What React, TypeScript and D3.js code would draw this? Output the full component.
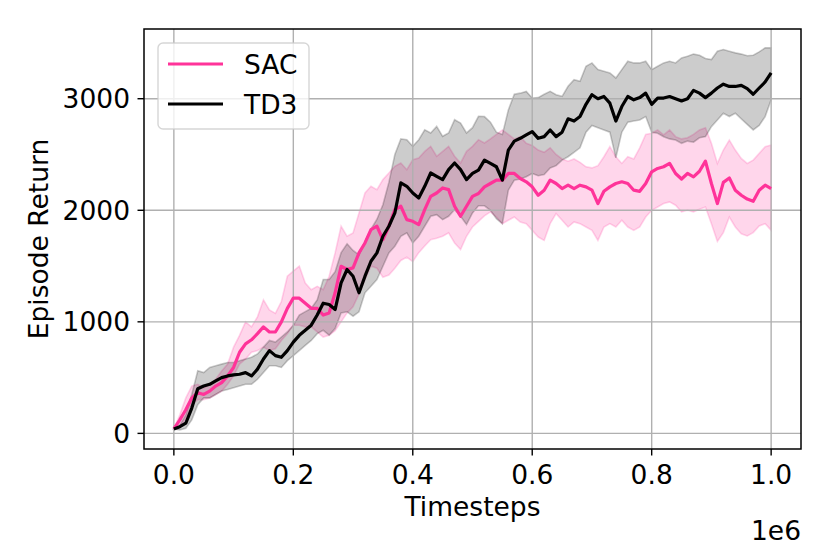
import React from 'react';
import * as d3 from 'd3';

// sampled every 0.01e6 timesteps, 0 .. 1e6
const timesteps = d3.range(0, 101).map(i => i * 10000);

const sacMean = [
  40, 121, 212, 318, 364, 349, 379, 424, 455, 515,
  591, 727, 803, 839, 894, 955, 909, 909, 1000, 1121,
  1212, 1212, 1167, 1121, 1121, 1061, 1080, 1260, 1498, 1469,
  1484, 1618, 1707, 1827, 1857, 1737, 1857, 2006, 2036, 1916,
  1901, 1872, 2006, 2125, 2155, 2200, 2185, 2036, 1946, 2036,
  2125, 2150, 2210, 2240, 2270, 2270, 2330, 2330, 2285, 2255,
  2210, 2135, 2180, 2270, 2240, 2195, 2225, 2195, 2225, 2210,
  2180, 2060, 2170, 2210, 2240, 2255, 2240, 2180, 2170, 2240,
  2345, 2375, 2390, 2420, 2330, 2280, 2330, 2300, 2350, 2440,
  2240, 2060, 2250, 2290, 2180, 2135, 2100, 2080, 2180, 2225,
  2195,
];
const sacUpper = [
  40, 167, 318, 424, 440, 409, 440, 485, 560, 621,
  773, 879, 1000, 955, 1045, 1197, 1106, 1076, 1182, 1409,
  1455, 1500, 1348, 1288, 1318, 1288, 1409, 1618, 1857, 1767,
  1797, 1976, 2155, 2215, 2185, 2275, 2334, 2394, 2424, 2364,
  2454, 2469, 2528, 2573, 2484, 2528, 2573, 2484, 2424, 2528,
  2573, 2633, 2603, 2640, 2680, 2720, 2680, 2640, 2660, 2600,
  2580, 2540, 2520, 2560, 2500, 2460, 2440, 2460, 2430, 2390,
  2380, 2400, 2480, 2570, 2480, 2420, 2480, 2460, 2560, 2680,
  2690, 2720, 2675, 2720, 2660, 2640, 2650, 2680, 2720, 2740,
  2600, 2420, 2540, 2630, 2540, 2465, 2420, 2450, 2510, 2570,
  2585,
];
const sacLower = [
  40, 61, 136, 258, 303, 303, 318, 349, 379, 440,
  515, 621, 667, 727, 742, 773, 742, 758, 833, 894,
  970, 970, 955, 955, 909, 864, 879, 920, 1000, 1080,
  1135, 1250, 1380, 1500, 1480, 1400, 1420, 1480, 1550, 1580,
  1540, 1620, 1680, 1737, 1750, 1767, 1797, 1707, 1648, 1767,
  1850, 1900, 1950, 1985, 1940, 1880, 1910, 1940, 1895, 1880,
  1820, 1760, 1730, 1880, 1970, 1910, 1850, 1895, 1880, 1850,
  1820, 1730, 1850, 1880, 1850, 1910, 1850, 1820, 1850, 1940,
  2000, 2030, 2060, 2075, 2045, 1985, 2000, 1985, 2010, 2030,
  1880, 1720, 1800, 1940, 1850, 1790, 1770, 1800, 1860, 1880,
  1820,
];

const td3Mean = [
  40, 60, 91, 227, 400, 424, 440, 470, 500, 515,
  524, 530, 545, 515, 576, 667, 742, 697, 682, 742,
  818, 879, 924, 970, 1061, 1167, 1155, 1110, 1350, 1469,
  1409, 1260, 1409, 1543, 1618, 1767, 1857, 1976, 2245, 2215,
  2155, 2110, 2215, 2334, 2304, 2275, 2364, 2424, 2364, 2275,
  2330, 2360, 2450, 2420, 2390, 2270, 2540, 2620, 2645, 2675,
  2705, 2645, 2660, 2720, 2660, 2700, 2820, 2800, 2840, 2950,
  3036, 3000, 3020, 2960, 2800, 2930, 3020, 2990, 3010, 3050,
  2950, 3006, 3006, 3020, 3000, 2980, 3000, 3075, 3050, 3010,
  3050, 3096, 3130, 3110, 3110, 3120, 3090, 3040, 3096, 3150,
  3231,
];
const td3Upper = [
  40, 76, 167, 349, 561, 545, 591, 606, 621, 636,
  636, 652, 667, 682, 712, 773, 833, 818, 864, 909,
  970, 1061, 1091, 1121, 1197, 1379, 1379, 1450, 1620, 1700,
  1640, 1600, 1720, 1830, 1920, 2050, 2250, 2500, 2640, 2633,
  2573, 2633, 2722, 2693, 2752, 2663, 2693, 2812, 2782, 2693,
  2740, 2842, 2840, 2790, 2700, 2680, 2900, 3040, 3050, 3066,
  3006, 3010, 3040, 3066, 3036, 3021, 3111, 3171, 3156, 3291,
  3321, 3261, 3246, 3231, 3186, 3261, 3336, 3321, 3321, 3336,
  3261, 3291, 3321, 3336, 3321, 3366, 3380, 3400, 3390, 3360,
  3351, 3426, 3441, 3426, 3411, 3400, 3385, 3390, 3420, 3456,
  3456,
];
const td3Lower = [
  40, 30, 45, 121, 258, 318, 318, 349, 379, 394,
  409, 424, 440, 440, 485, 545, 606, 606, 591, 652,
  697, 742, 788, 833, 894, 924, 880, 940, 1080, 1090,
  1050, 1090, 1260, 1319, 1379, 1498, 1618, 1678, 1767, 1797,
  1707, 1767, 1857, 1946, 1961, 1916, 1946, 2006, 1946, 1872,
  1976, 2040, 2040, 2000, 1925, 1880, 2180, 2270, 2280, 2300,
  2330, 2310, 2320, 2380, 2400, 2450, 2480, 2520, 2560, 2700,
  2760, 2740, 2720, 2700, 2470, 2700, 2790, 2800, 2810, 2840,
  2700, 2690, 2660, 2640, 2630, 2600, 2620, 2610, 2650, 2660,
  2750, 2810, 2870, 2840, 2870, 2820, 2770, 2720, 2760, 2840,
  2990,
];

const xTicks = [0, 200000, 400000, 600000, 800000, 1000000];
const xTickLabels = ['0.0', '0.2', '0.4', '0.6', '0.8', '1.0'];
const yTicks = [0, 1000, 2000, 3000];

const series = [
  { name: 'SAC', color: '#ff3399', mean: sacMean, lo: sacLower, hi: sacUpper },
  { name: 'TD3', color: '#000000', mean: td3Mean, lo: td3Lower, hi: td3Upper },
];

const W = 830;
const H = 554;
const plot = { left: 144, right: 801, top: 29, bottom: 449 };
const font = '"DejaVu Sans", sans-serif';
const fs = 26.5;

export default function App() {
  const x = d3.scaleLinear().domain([-50000, 1050000]).range([plot.left, plot.right]);
  const y = d3.scaleLinear().domain([-140, 3625]).range([plot.bottom, plot.top]);

  const band = (lo: number[], hi: number[]) =>
    d3.area<number>()
      .x((_, i) => x(timesteps[i]))
      .y0((_, i) => y(lo[i]))
      .y1((_, i) => y(hi[i]))(lo) || '';

  const line = (vals: number[]) =>
    d3.line<number>()
      .x((_, i) => x(timesteps[i]))
      .y(d => y(d))(vals) || '';

  return (
    <div style={{ position: 'fixed', left: 0, top: 0 }}>
      <svg width={W} height={H} style={{ display: 'block', background: '#fff' }} fontFamily={font}>
        {/* bands */}
        {series.map(s => (
          <path key={s.name + '-band'} d={band(s.lo, s.hi)}
            fill={s.color} fillOpacity={0.2}
            stroke={s.color} strokeOpacity={0.2} strokeWidth={1.6} />
        ))}

        {/* grid */}
        <g stroke="#b0b0b0" strokeWidth={1.4}>
          {xTicks.map(t => (
            <line key={'gx' + t} x1={x(t)} x2={x(t)} y1={plot.top} y2={plot.bottom} />
          ))}
          {yTicks.map(t => (
            <line key={'gy' + t} x1={plot.left} x2={plot.right} y1={y(t)} y2={y(t)} />
          ))}
        </g>

        {/* mean lines */}
        {series.map(s => (
          <path key={s.name + '-line'} d={line(s.mean)} fill="none"
            stroke={s.color} strokeWidth={3.2} strokeLinejoin="round" />
        ))}

        {/* frame */}
        <rect x={plot.left} y={plot.top} width={plot.right - plot.left} height={plot.bottom - plot.top}
          fill="none" stroke="#000" strokeWidth={1.5} />

        {/* x axis */}
        {xTicks.map((t, i) => (
          <g key={'xt' + t}>
            <line x1={x(t)} x2={x(t)} y1={plot.bottom} y2={plot.bottom + 6.5} stroke="#000" strokeWidth={1.4} />
            <text x={x(t)} y={484} fontSize={fs} textAnchor="middle">{xTickLabels[i]}</text>
          </g>
        ))}
        <text x={(plot.left + plot.right) / 2} y={516} fontSize={fs} textAnchor="middle">Timesteps</text>
        <text x={plot.right} y={540} fontSize={fs} textAnchor="end">1e6</text>

        {/* y axis */}
        {yTicks.map(t => (
          <g key={'yt' + t}>
            <line x1={plot.left - 6.5} x2={plot.left} y1={y(t)} y2={y(t)} stroke="#000" strokeWidth={1.4} />
            <text x={130} y={y(t) + 9.5} fontSize={fs} textAnchor="end">{t}</text>
          </g>
        ))}
        <text transform={`translate(48,${(plot.top + plot.bottom) / 2}) rotate(-90)`} fontSize={fs} textAnchor="middle">
          Episode Return
        </text>

        {/* legend */}
        <rect x={158} y={43} width={151} height={86} rx={5}
          fill="#fff" fillOpacity={0.8} stroke="#cccccc" strokeOpacity={0.8} strokeWidth={1.4} />
        {series.map((s, i) => (
          <g key={s.name + '-leg'}>
            <line x1={168} x2={223} y1={64 + i * 40} y2={64 + i * 40} stroke={s.color} strokeWidth={3.2} />
            <text x={244} y={73.5 + i * 40} fontSize={fs}>{s.name}</text>
          </g>
        ))}
      </svg>
    </div>
  );
}
